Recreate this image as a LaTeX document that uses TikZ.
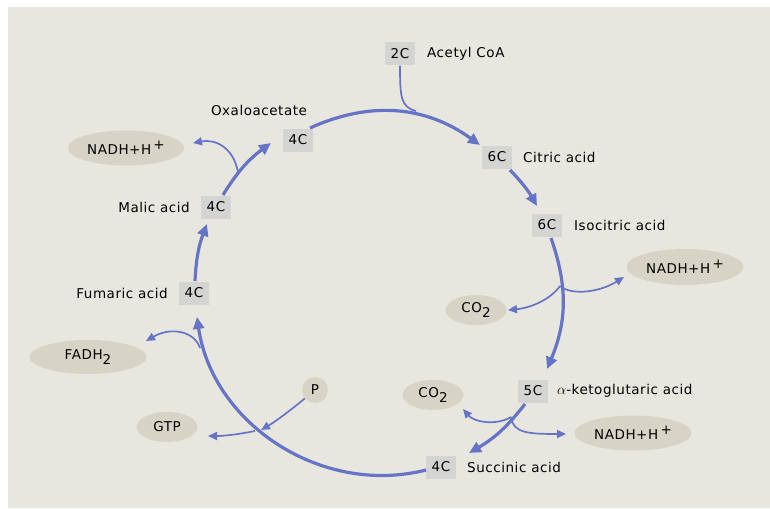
\documentclass[tikz,border=0pt]{standalone}
\usepackage{fontspec}
\setmainfont{DejaVu Sans}[LetterSpace=4]
\usetikzlibrary{arrows.meta,shapes.geometric}
\definecolor{bgc}{RGB}{232,231,223}
\definecolor{boxc}{RGB}{212,212,210}
\definecolor{ellc}{RGB}{216,212,197}
\definecolor{arrc}{RGB}{102,116,200}
\newcommand\chemsup{\,\raisebox{5pt}{+}}
\newcommand\chemsub{\raisebox{-4.5pt}{2}}
\begin{document}
\begin{tikzpicture}[x=1pt,y=-1pt,
  every node/.style={font=\fontsize{13.5}{15}\selectfont, inner sep=0pt, text=black},
  cbox/.style={fill=boxc, minimum width=30, minimum height=23},
  lbl/.style={anchor=west},
  prod/.style={ellipse, fill=ellc},
  mainarr/.style={draw=arrc, line width=3.2pt, -{Triangle[length=12pt,width=11pt]}},
  thinarr/.style={draw=arrc, line width=1.7pt, -{Triangle[length=9pt,width=8pt]}},
  thinline/.style={draw=arrc, line width=1.7pt}]
\fill[white] (0,0) rectangle (770,508);
\fill[bgc] (8,7) rectangle (770,508);
\useasboundingbox (0,0) rectangle (770,508);

% compound boxes and labels
\node[cbox] (ac) at (400,54) {2C};
\node[lbl] (acL) at (427,54) {Acetyl CoA};
\node[cbox] (cit) at (497,157) {6C};
\node[lbl] (citL) at (523,157) {Citric acid};
\node[cbox] (iso) at (547,225) {6C};
\node[lbl] (isoL) at (574,225) {Isocitric acid};
\node[cbox] (akg) at (533,391) {5C};
\node[lbl] (akgL) at (557,391) {$\alpha$-ketoglutaric acid};
\node[cbox] (suc) at (441,467) {4C};
\node[lbl] (sucL) at (467,467) {Succinic acid};
\node[cbox] (fum) at (194,293) {4C};
\node[anchor=east] (fumL) at (168,293) {Fumaric acid};
\node[cbox] (mal) at (216,207) {4C};
\node[anchor=east] (malL) at (190,207) {Malic acid};
\node[cbox] (oxa) at (298,140) {4C};
\node (oxaL) at (259,110) {Oxaloacetate};

% products
\node[prod, minimum width=116, minimum height=35] (n1) at (126,148) {NADH+H\chemsup};
\node[prod, minimum width=117, minimum height=36] (n2) at (685,267) {NADH+H\chemsup};
\node[prod, minimum width=117, minimum height=35] (n3) at (633,433) {NADH+H\chemsup};
\node[prod, minimum width=61, minimum height=30] (co1) at (476,310) {CO\chemsub};
\node[prod, minimum width=61, minimum height=30] (co2) at (433,395) {CO\chemsub};
\node[prod, minimum width=117, minimum height=34] (fadh) at (88,357) {FADH\chemsub};
\node[prod, minimum width=61, minimum height=30] (gtp) at (167,427) {GTP};
\node[prod, circle, minimum size=26] (p) at (315,390) {P};

% points on the cycle
\coordinate (s1) at (310,128);  \coordinate (e1) at (480,145);
\coordinate (s2) at (510,170);  \coordinate (e2) at (537,206);
\coordinate (s3) at (551,238);  \coordinate (e3) at (547,369);
\coordinate (s4) at (525,404);  \coordinate (e4) at (469,453);
\coordinate (s5) at (426,470);  \coordinate (e5) at (197,317);
\coordinate (s6) at (195,281);  \coordinate (e6) at (207,224);
\coordinate (s7) at (223,195);  \coordinate (e7) at (271,143);

% main cycle
\draw[mainarr] (s1) to[bend left=30] (e1);
\draw[mainarr] (s2) to[bend left=7] (e2);
\draw[mainarr] (s3) to[bend left=21] (e3);
\draw[mainarr] (s4) to[bend left=11] (e4);
\draw[mainarr] (s5) to[bend left=48] (e5);
\draw[mainarr] (s6) to[bend left=9] (e6);
\draw[mainarr] (s7) to[bend left=11] (e7);

% branch points
\coordinate (j1) at (416,111);
\coordinate (j2) at (238,172);
\coordinate (j3) at (560,286);
\coordinate (j4) at (511,417);
\coordinate (j5) at (200,348);
\coordinate (j6) at (255,431);
\coordinate (t1) at (193,143);
\coordinate (t2) at (508,310);
\coordinate (t3) at (624,277);
\coordinate (t4) at (463,409);
\coordinate (t5) at (566,434);
\coordinate (t6) at (146,341);
\coordinate (t7) at (208,436);
\coordinate (t8) at (261,430);

% side arrows
\draw[thinline] (ac.south) .. controls (400,98) and (401,107) .. (j1);
\draw[thinarr] (j2) .. controls (233,146) and (214,139) .. (t1);
\draw[thinarr] (j3) .. controls (550,300) and (530,308) .. (t2);
\draw[thinarr] (j3) .. controls (572,296) and (600,292) .. (t3);
\draw[thinarr] (j4) .. controls (496,426) and (474,422) .. (t4);
\draw[thinarr] (j4) .. controls (513,433) and (528,434) .. (t5);
\draw[thinarr] (j5) .. controls (195,332) and (172,326) .. (t6);
\draw[thinarr] (j6) .. controls (240,434) and (225,436) .. (t7);
\draw[thinarr] (p) .. controls (286,414) and (273,423) .. (t8);
\end{tikzpicture}
\end{document}
